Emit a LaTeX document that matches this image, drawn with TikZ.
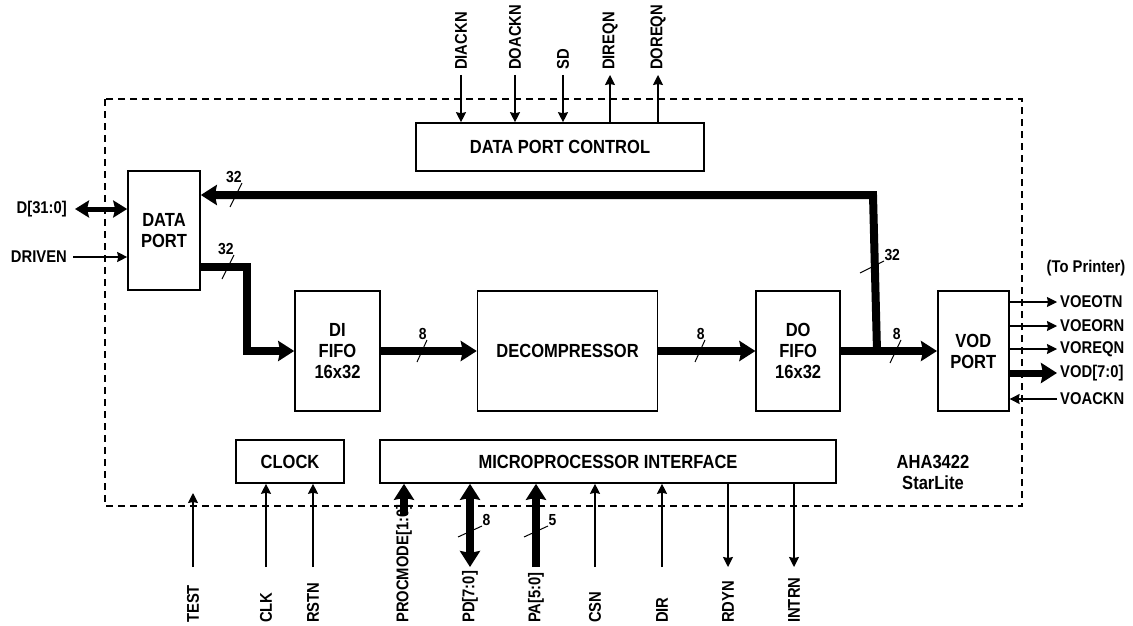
\documentclass[tikz,border=0pt]{standalone}
\usepackage{fontspec}
\setmainfont[FakeStretch=0.87]{Liberation Sans}
\usetikzlibrary{positioning, arrows.meta, calc}

\begin{document}
\begin{tikzpicture}[
		x=1pt, y=-1pt,
		every node/.style={font=\fontsize{19}{21}\selectfont\bfseries, inner sep=0pt},
		block/.style={rectangle, draw, line width=1.6pt, align=center, minimum height=120pt},
		chipedge/.style={line width=1.6pt, dash pattern=on 7pt off 5pt},
		bus/.style={line width=8pt, -{Stealth[length=16pt, width=20pt, inset=2pt]}},
		signal/.style={line width=1.3pt, -{Stealth[length=10pt, width=10pt, inset=1pt]}},
		tick/.style={line width=1pt},
		width/.style={font=\fontsize{16}{18}\selectfont\bfseries},
		sig/.style={font=\fontsize{17}{19}\selectfont\bfseries},
		pin/.style={sig, rotate=90, anchor=west}
		]
		\useasboundingbox (0,0) rectangle (1133,626);
		
		% Chip outline
		\draw[chipedge] (105,99) rectangle (1022,506);
		\node[align=center] (chip) at (933,472) {AHA3422\\StarLite};
		
		% Blocks
		\node[block, minimum width=288pt, minimum height=48pt] (dpc) at (560,147) {DATA PORT CONTROL};
		\node[block, minimum width=72pt, minimum height=119pt] (dport) at (164,230.5) {DATA\\PORT};
		\node[block, minimum width=85pt] (difo) at (337.5,351) {DI\\FIFO\\16x32};
		\node[block, minimum width=180pt, right=96pt of difo] (decomp) {DECOMPRESSOR};
		\node[block, minimum width=84pt, right=97pt of decomp] (dofifo) {DO\\FIFO\\16x32};
		\node[block, minimum width=71pt, right=96pt of dofifo] (vod) {VOD\\PORT};
		\node[block, minimum width=108pt, minimum height=43pt] (clock) at (290,461.5) {CLOCK};
		\node[block, minimum width=456pt, minimum height=43pt] (mpi) at (608,461.5) {MICROPROCESSOR INTERFACE};
		
		% Data path
		\coordinate (junction) at ($(dofifo.east)+(36,0)$);
		\coordinate (fbturn) at (873,195);
		\draw[bus] (dport.east |- 0,267) -| (247,351) -- (difo.west);
		\draw[bus] (difo) -- (decomp);
		\draw[bus] (decomp) -- (dofifo);
		\draw[bus] (dofifo) -- (vod);
		\draw[bus] (junction) -- (fbturn) -- (fbturn -| dport.east);
		
		% Bus widths
		\draw[tick] (230,207) -- (242,183) node[width, anchor=south east] (w1) {32};
		\draw[tick] (222,279) -- (234,255) node[width, anchor=south east] (w2) {32};
		\draw[tick] (417,362) -- (427,340) node[width, anchor=south east] (w3) {8};
		\draw[tick] (695,362) -- (705,340) node[width, anchor=south east] (w4) {8};
		\draw[tick] (890,363) -- (901,340) node[width, anchor=south east] (w5) {8};
		\draw[tick] (860,273) -- (884,261) node[width, anchor=south west] (w6) {32};
		\draw[tick] (458,537) -- (482,526) node[width, anchor=south west] (w7) {8};
		\draw[tick] (524,537) -- (548,526) node[width, anchor=south west] (w8) {5};
		
		% Data port control signals
		\node[pin] (diackn) at (461,70) {DIACKN};
		\node[pin] (doackn) at (515,70) {DOACKN};
		\node[pin] (sd) at (563,70) {SD};
		\node[pin] (direqn) at (610,70) {DIREQN};
		\node[pin] (doreqn) at (658,70) {DOREQN};
		\draw[signal] ($(diackn.west)+(0,5)$) -- (diackn.west |- dpc.north);
		\draw[signal] ($(doackn.west)+(0,5)$) -- (doackn.west |- dpc.north);
		\draw[signal] ($(sd.west)+(0,5)$) -- (sd.west |- dpc.north);
		\draw[signal] (direqn.west |- dpc.north) -- ($(direqn.west)+(0,5)$);
		\draw[signal] (doreqn.west |- dpc.north) -- ($(doreqn.west)+(0,5)$);
		
		% Host side
		\node[sig, anchor=east] (dbus) at (67,209) {D[31:0]};
		\node[sig, anchor=east] (driven) at (67,257) {DRIVEN};
		\draw[line width=5pt, {Stealth[length=14pt, width=17pt, inset=2pt]}-{Stealth[length=14pt, width=17pt, inset=2pt]}]
			($(dbus.east)+(8,0)$) -- (dbus.east -| dport.west);
		\draw[signal] ($(driven.east)+(6,0)$) -- (driven.east -| dport.west);
		
		% Printer side
		\node[sig] (printer) at (1086,268) {(To Printer)};
		\node[sig, anchor=west] (voeotn) at (1060,302) {VOEOTN};
		\node[sig, anchor=west] (voeorn) at (1060,326) {VOEORN};
		\node[sig, anchor=west] (voreqn) at (1060,349) {VOREQN};
		\node[sig, anchor=west] (voddata) at (1060,373) {VOD[7:0]};
		\node[sig, anchor=west] (voackn) at (1060,399) {VOACKN};
		\draw[signal] (vod.east |- voeotn.west) -- ($(voeotn.west)+(-3,0)$);
		\draw[signal] (vod.east |- voeorn.west) -- ($(voeorn.west)+(-3,0)$);
		\draw[signal] (vod.east |- voreqn.west) -- ($(voreqn.west)+(-3,0)$);
		\draw[bus, line width=7pt] (vod.east |- voddata.west) -- ($(voddata.west)+(-3,0)$);
		\draw[signal] ($(voackn.west)+(-3,0)$) -- (vod.east |- voackn.west);
		
		% Clock and microprocessor pins
		\node[pin] (test) at (193,623) {TEST};
		\node[pin] (clk) at (266,623) {CLK};
		\node[pin] (rstn) at (313,623) {RSTN};
		\node[pin] (procmode) at (404,623) {PROCMODE[1:0]};
		\node[pin] (pd) at (470,623) {PD[7:0]};
		\node[pin] (pa) at (536,623) {PA[5:0]};
		\node[pin] (csn) at (595,623) {CSN};
		\node[pin] (dir) at (662,623) {DIR};
		\node[pin] (rdyn) at (728,623) {RDYN};
		\node[pin] (intrn) at (794,623) {INTRN};
		\coordinate (testend) at (193,493);
		\draw[signal] ($(test.west)+(0,-56)$) -- (testend);
		\draw[signal] ($(clk.west)+(0,-56)$) -- (clk.west |- clock.south);
		\draw[signal] ($(rstn.west)+(0,-56)$) -- (rstn.west |- clock.south);
		\draw[bus] ($(procmode.west)+(0,-108)$) -- (procmode.west |- mpi.south);
		\draw[bus, {Stealth[length=16pt, width=20pt, inset=2pt]}-{Stealth[length=16pt, width=20pt, inset=2pt]}]
			(pd.west |- mpi.south) -- ($(pd.west)+(0,-56)$);
		\draw[bus] ($(pa.west)+(0,-56)$) -- (pa.west |- mpi.south);
		\draw[signal] ($(csn.west)+(0,-56)$) -- (csn.west |- mpi.south);
		\draw[signal] ($(dir.west)+(0,-56)$) -- (dir.west |- mpi.south);
		\draw[signal] (rdyn.west |- mpi.south) -- ($(rdyn.west)+(0,-56)$);
		\draw[signal] (intrn.west |- mpi.south) -- ($(intrn.west)+(0,-56)$);
		
	\end{tikzpicture}
\end{document}
